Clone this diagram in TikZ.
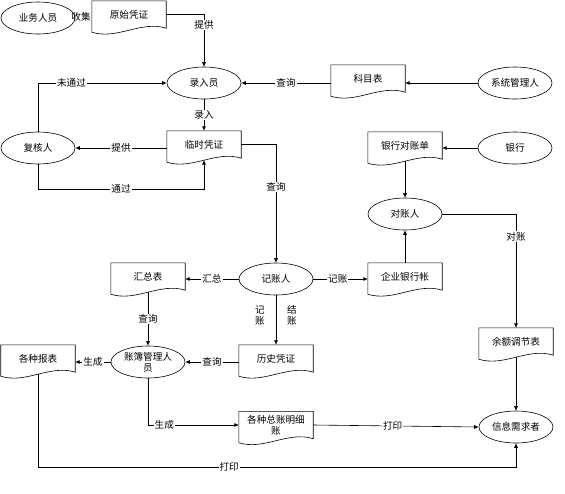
\documentclass[tikz,border=0pt]{standalone}
\usepackage{fontspec}
\setmainfont{Noto Sans CJK SC}
\usetikzlibrary{shapes.geometric,arrows.meta,calc}
\begin{document}
\begin{tikzpicture}[x=1pt,y=-1pt,
  font=\fontsize{9.6}{11}\selectfont,
  ell/.style={ellipse,draw,line width=0.6pt,minimum width=74pt,minimum height=32pt,inner sep=0pt,align=center},
  doc/.style={minimum width=74pt,minimum height=27pt,inner sep=0pt,align=center},
  arr/.style={line width=0.6pt,-{Latex[length=4.5pt,width=4pt]}},
  ln/.style={line width=0.6pt},
  lbl/.style={fill=white,inner sep=1pt}]
\useasboundingbox (0,0) rectangle (565,493);

% ellipses
\node[ell] (ywry) at (38,18) {业务人员};
\node[ell] (lry)  at (204,83) {录入员};
\node[ell] (xtgl) at (515,83) {系统管理人};
\node[ell] (fhr)  at (38,148) {复核人};
\node[ell] (yh)   at (515,148) {银行};
\node[ell] (dzr)  at (405,214) {对账人};
\node[ell] (jzr)  at (276,279) {记账人};
\node[ell] (zbgl) at (148,362) {账簿管理人\\员};
\node[ell] (xxxq) at (516,427) {信息需求者};

% documents
\node[doc] (yszp)  at (129,14.5)  {原始凭证};
\node[doc] (kmb)   at (368,78.5)  {科目表};
\node[doc] (lspz)  at (204,144.5) {临时凭证};
\node[doc] (yhdzd) at (405,145.5) {银行对账单};
\node[doc] (qyyhz) at (405,276.5) {企业银行帐};
\node[doc] (hzb)   at (148,276.5) {汇总表};
\node[doc] (lspz2) at (276,358.5) {历史凭证};
\node[doc] (gzbb)  at (38,358.5)  {各种报表};
\node[doc] (yetjb) at (516,341.5) {余额调节表};
\node[doc] (zzmx)  at (276,425)   {各种总账明细\\账};

\foreach \n in {yszp,kmb,lspz,yhdzd,qyyhz,hzb,lspz2,gzbb,yetjb,zzmx}
  \draw[ln] (\n.north west) -- (\n.north east) -- (\n.south east)
    .. controls +(-25,-8) and +(25,8) .. ($(\n.south west)+(0,4)$) -- cycle;

% free labels
\node[inner sep=0pt] (sj) at (81,17) {收集};
\node[align=center,inner sep=0pt] (jz1) at (260,315) {记\\账};
\node[align=center,inner sep=0pt] (jz2) at (292,315) {结\\账};

% connectors
\draw[arr] (yszp.east) -| node[lbl,pos=0.6]{提供} (lry.north);
\draw[arr] (lry.south) -- node[lbl]{录入} (lspz.north);
\draw[arr] (kmb.west |- lry.east) -- node[lbl]{查询} (lry.east);
\draw[arr] (xtgl.west) -- (kmb.east |- xtgl.west);
\draw[arr] (lspz.west |- fhr.east) -- node[lbl]{提供} (fhr.east);
\draw[arr] (fhr.north) |- node[lbl,pos=0.63]{未通过} (lry.west);
\draw[arr] (fhr.south) -- ++(0,25) -| node[lbl,pos=0.25]{通过} ($(lspz.south)+(0,2)$);
\draw[arr] (lspz.east) -| node[lbl,pos=0.68]{查询} (jzr.north);
\draw[arr] (yh.west) -- (yhdzd.east |- yh.west);
\draw[arr] ($(yhdzd.south)+(0,2)$) -- (dzr.north);
\draw[arr] (qyyhz.north) -- (dzr.south);
\draw[arr] (dzr.east) -| node[lbl,pos=0.6]{对账} (yetjb.north);
\draw[arr] ($(yetjb.south)+(0,2)$) -- (xxxq.north);
\draw[arr] (jzr.east) -- node[lbl,pos=0.45]{记账} (qyyhz.west |- jzr.east);
\draw[arr] (jzr.west) -- node[lbl]{汇总} (hzb.east |- jzr.west);
\draw[arr] ($(hzb.south)+(0,2)$) -- node[lbl]{查询} (zbgl.north);
\draw[arr] (jzr.south) -- (lspz2.north);
\draw[arr] (lspz2.west |- zbgl.east) -- node[lbl]{查询} (zbgl.east);
\draw[arr] (zbgl.west) -- node[lbl]{生成} (gzbb.east |- zbgl.west);
\draw[arr] (zbgl.south) |- node[lbl,pos=0.59]{生成} (zzmx.west);
\draw[arr] (zzmx.east) -- node[lbl,pos=0.48]{打印} (xxxq.west);
\draw[arr] ($(gzbb.south)+(0,2)$) -- ++(0,93) -| node[lbl,pos=0.2]{打印} (xxxq.south);
\end{tikzpicture}
\end{document}
